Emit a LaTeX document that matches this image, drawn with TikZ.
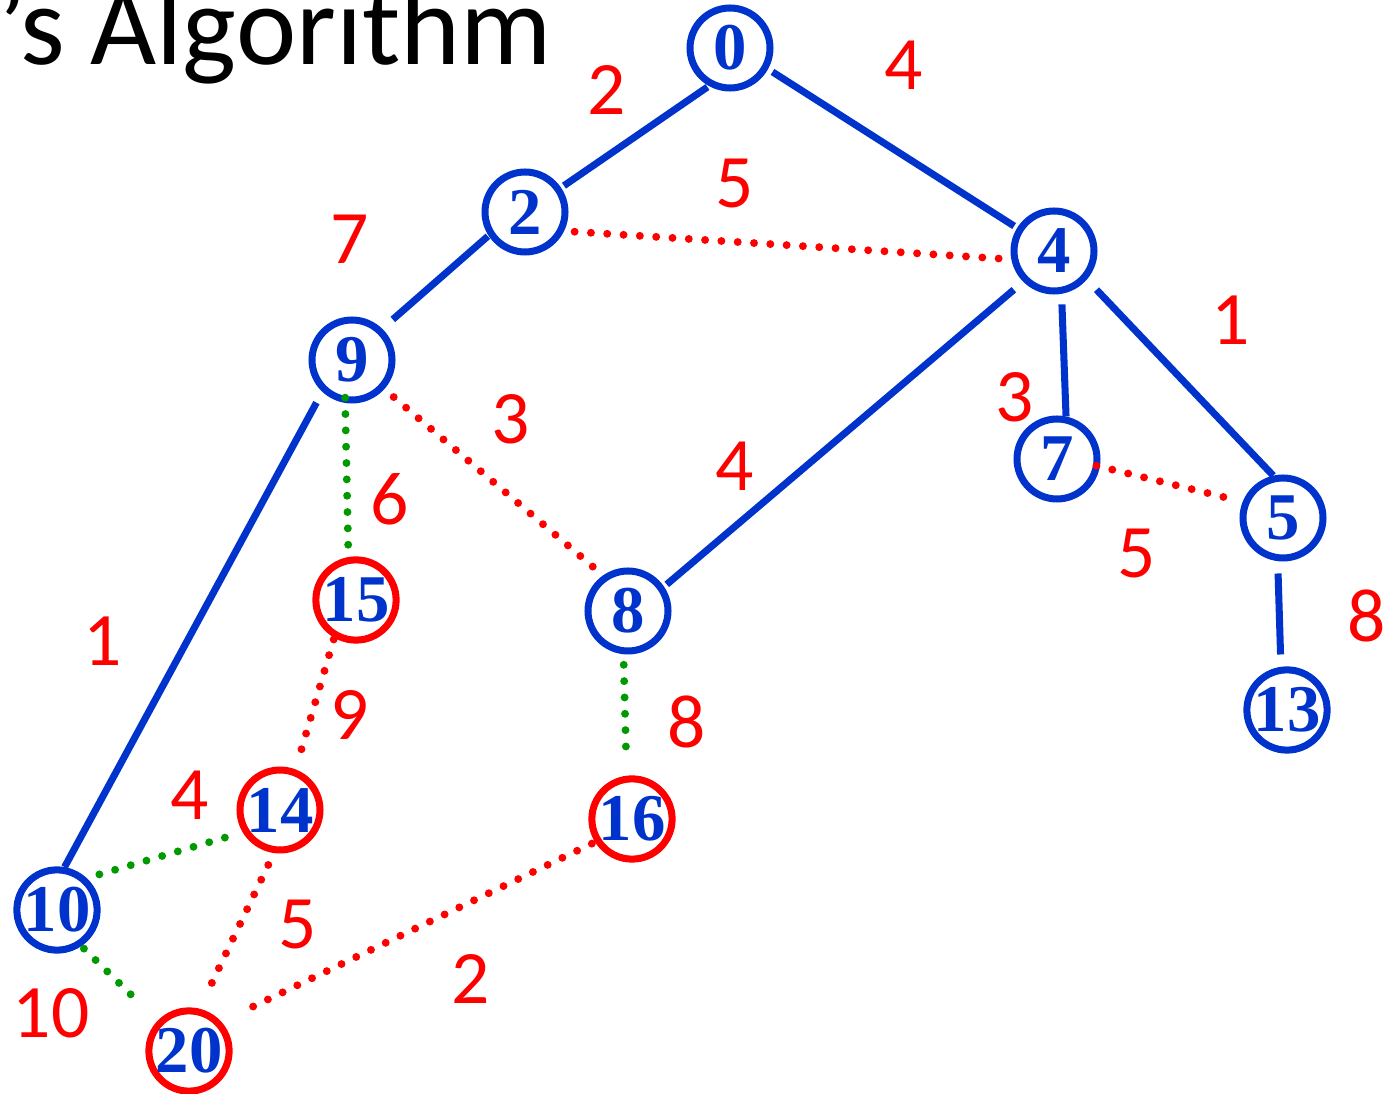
\documentclass[tikz,border=0pt]{standalone}
\usepackage{fontspec}
\newfontfamily\wfam{Carlito}
\newfontfamily\vfam{Liberation Serif}
\definecolor{nblue}{RGB}{0,51,204}
\definecolor{ngreen}{RGB}{0,153,0}
\tikzset{
  vtx/.style={circle, draw=nblue, line width=4pt, minimum size=1.6cm, inner sep=0pt,
    text=nblue, font=\vfam\bfseries\fontsize{38}{40}\selectfont},
  rvtx/.style={vtx, draw=red},
  tree/.style={draw=nblue, line width=4pt},
  rdot/.style={draw=red, line width=4.5pt, line cap=round, dash pattern=on 0pt off 9.3pt},
  gdot/.style={draw=ngreen, line width=4.5pt, line cap=round, dash pattern=on 0pt off 9.3pt},
  wt/.style={text=red, inner sep=0pt, font=\wfam\fontsize{43}{46}\selectfont},
  ttl/.style={text=black, inner sep=0pt, font=\wfam\fontsize{65}{70}\selectfont}
}
\begin{document}
\begin{tikzpicture}[x=0.02cm, y=-0.02cm]
\useasboundingbox (0,0) rectangle (1384,1094);
\node[ttl, anchor=base east] (title) at (552,65) {’s Algorithm};
% vertices
\node[vtx] (n0) at (730,48) {0};
\node[vtx] (n2) at (525,212) {2};
\node[vtx] (n4) at (1054,251) {4};
\node[vtx] (n9) at (352,360) {9};
\node[vtx] (n7) at (1057,459) {7};
\node[vtx] (n5) at (1283,518) {5};
\node[rvtx] (n15) at (356,600) {15};
\node[vtx] (n8) at (628,611) {8};
\node[vtx] (n13) at (1287,710) {13};
\node[rvtx] (n14) at (280,810) {14};
\node[rvtx] (n16) at (632,819) {16};
\node[vtx] (n10) at (57,910) {10};
\node[rvtx] (n20) at (189,1051) {20};
% tree edges
\draw[tree, shorten <=1pt, shorten >=2pt] (n0.241) -- (n2.34);
\draw[tree, shorten <=3pt, shorten >=2pt] (n0.331) -- (n4.148);
\draw[tree, shorten <=0.5pt, shorten >=8pt] (n2.213) -- (n9.46);
\draw[tree, shorten <=7pt, shorten >=2pt] (n4.225) -- (n8.34);
\draw[tree, shorten <=6pt, shorten >=0pt] (n4.280) -- (n7.78);
\draw[tree, shorten <=8pt, shorten >=0pt] (n4.319) -- (n5.103);
\draw[tree, shorten <=7pt, shorten >=7pt] (n5.263) -- (n13.98);
\draw[tree, shorten <=7pt, shorten >=0pt] (n9.227) -- (n10.80);
% red dotted edges
\draw[rdot, shorten <=6pt, shorten >=-1pt] (n2.334) -- (n4.191);
\draw[rdot, shorten <=7pt, shorten >=7pt] (n9.318) -- (n8.125);
\draw[rdot, shorten <=-2pt, shorten >=10pt] (n7.350) -- (n5.158);
\draw[rdot, shorten <=1pt, shorten >=11pt] (n15.240) -- (n14.69);
\draw[rdot, shorten <=7.5pt, shorten >=7pt] (n14.262) -- (n20.76);
\draw[rdot, shorten <=2pt, shorten >=12.5pt] (n16.212) -- (n20.42);
% green dotted edges
\draw[gdot, shorten <=-3pt, shorten >=6pt] (n9.261) -- (n15.100);
\draw[gdot, shorten <=6pt, shorten >=15pt] (n8.264) -- (n16.97);
\draw[gdot, shorten <=7.5pt, shorten >=2pt] (n10.47) -- (n14.211);
\draw[gdot, shorten <=2pt, shorten >=12.5pt] (n10.304) -- (n20.136);
% weights
\node[wt] (w04) at (904,65) {4};
\node[wt] (w02) at (607,90) {2};
\node[wt] (w24) at (735,184) {5};
\node[wt] (w29) at (350,239) {7};
\node[wt] (w45) at (1231,320) {1};
\node[wt] (w47) at (1015,397) {3};
\node[wt] (w98) at (511,419) {3};
\node[wt] (w48) at (735,466) {4};
\node[wt] (w915) at (390,499) {6};
\node[wt] (w75) at (1137,554) {5};
\node[wt] (w513) at (1367,616) {8};
\node[wt] (w910) at (103,641) {1};
\node[wt] (w1514) at (350,715) {9};
\node[wt] (w816) at (687,722) {8};
\node[wt] (w1014) at (190,795) {4};
\node[wt] (w1420) at (298,925) {5};
\node[wt] (w1620) at (471,979) {2};
\node[wt] (w1020) at (51,1013) {10};
\end{tikzpicture}
\end{document}
